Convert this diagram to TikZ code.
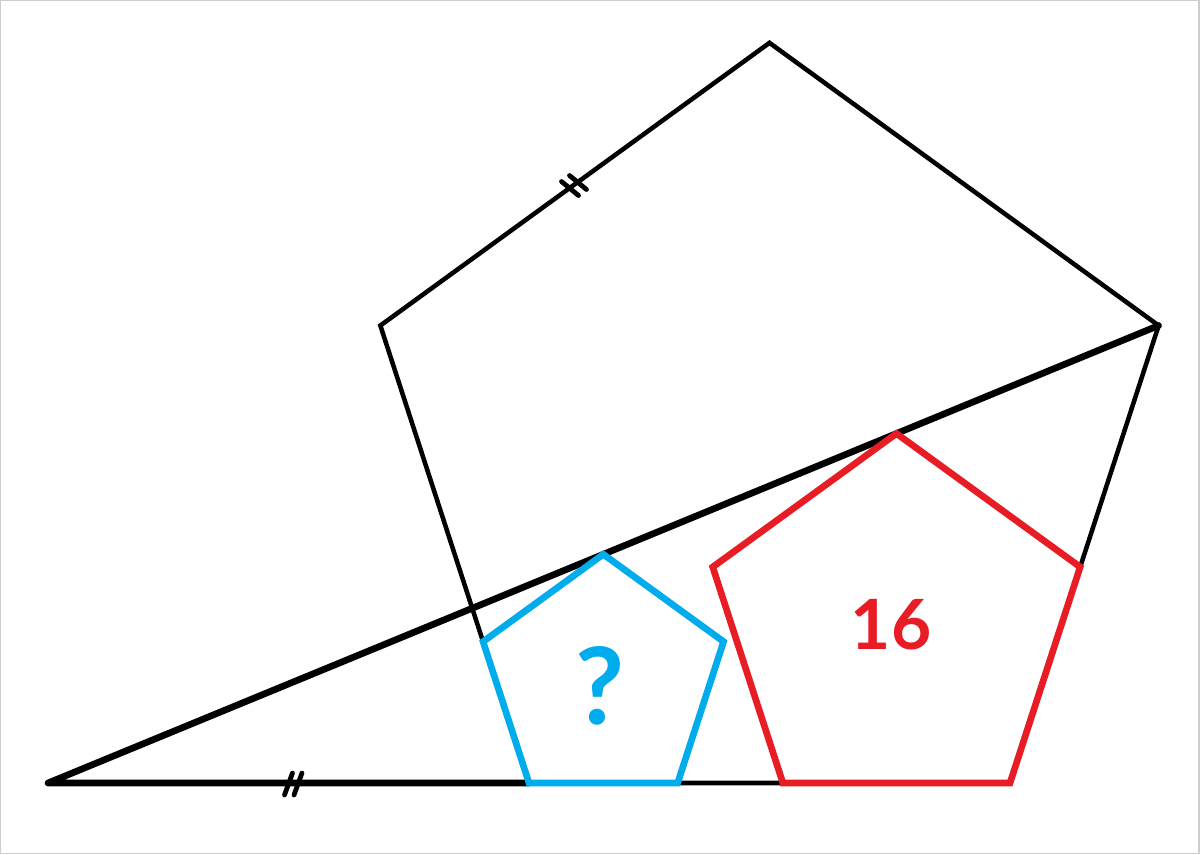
\documentclass[tikz,border=0pt]{standalone}
\usepackage{fontspec}
\setmainfont{Lato}
\definecolor{pblue}{RGB}{0,172,236}
\definecolor{pred}{RGB}{232,28,36}
\definecolor{frame}{RGB}{205,205,205}
\begin{document}
\begin{tikzpicture}[x=0.75pt,y=-0.75pt,
  thinline/.style={draw=black,line width=3.4pt,line join=miter},
  thickline/.style={draw=black,line width=5pt,line cap=round,line join=round},
  bluepent/.style={draw=pblue,line width=5pt,line join=miter},
  redpent/.style={draw=pred,line width=5pt,line join=miter},
  tickmark/.style={draw=black,line width=3.6pt,line cap=round},
  lbl/.style={inner sep=0pt,anchor=center}]
\useasboundingbox (0,0) rectangle (1200,854);
\fill[white] (0,0) rectangle (1200,854);
\draw[frame,line width=1pt] (0.5,0.5) rectangle (1199,853.3);
% big pentagon
\coordinate (B1) at (529,783);
\coordinate (B2) at (1010,783);
\coordinate (R) at (1158.64,325.54);
\coordinate (T) at (769.5,42.82);
\coordinate (L) at (380.36,325.54);
\draw[thinline] (B1) -- (B2) -- (R) -- (T) -- (L) -- cycle;
% triangle
\coordinate (A) at (48,783);
\draw[thickline] (B1) -- (A) -- (R);
% tick marks
\coordinate (t1a) at (561.5,181.5);
\coordinate (t1b) at (578.5,195.5);
\coordinate (t2a) at (569.5,175.5);
\coordinate (t2b) at (586.5,189.5);
\draw[tickmark] (t1a) -- (t1b);
\draw[tickmark] (t2a) -- (t2b);
\coordinate (t3a) at (292.5,773);
\coordinate (t3b) at (284.5,795);
\coordinate (t4a) at (302,773);
\coordinate (t4b) at (294,795);
\draw[tickmark] (t3a) -- (t3b);
\draw[tickmark] (t4a) -- (t4b);
% blue pentagon
\coordinate (b1) at (529,783);
\coordinate (b2) at (677.64,783);
\coordinate (b3) at (723.57,641.64);
\coordinate (b4) at (603.32,554.27);
\coordinate (b5) at (483.07,641.64);
\draw[bluepent] (b1) -- (b2) -- (b3) -- (b4) -- (b5) -- cycle;
% red pentagon
\coordinate (r1) at (782.9,783);
\coordinate (r2) at (1010,783);
\coordinate (r3) at (1080.18,567.01);
\coordinate (r4) at (896.45,433.53);
\coordinate (r5) at (712.72,567.01);
\draw[redpent] (r1) -- (r2) -- (r3) -- (r4) -- (r5) -- cycle;
% labels
\node[lbl,text=pblue,font=\fontsize{80}{90}\selectfont\bfseries] (qm) at (600,686) {?};
\node[lbl,text=pred,font=\fontsize{52}{60}\selectfont\bfseries] (sixteen) at (891,625) {16};
\end{tikzpicture}
\end{document}
